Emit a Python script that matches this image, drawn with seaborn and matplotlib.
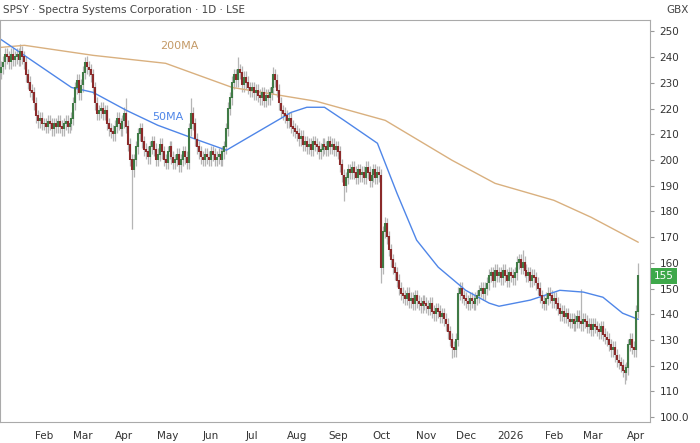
import numpy as np
import pandas as pd
import matplotlib
matplotlib.use("Agg")
import matplotlib.pyplot as plt
import seaborn as sns

# daily closes, month by month (GBX), one value per trading day
jan25 = [236, 238, 241, 240, 238, 241, 239, 240, 241, 239, 242, 240, 238, 233, 230, 227, 226, 222, 217, 215, 216, 214]
feb25 = [214, 213, 215, 214, 212, 214, 213, 215, 213, 212, 214, 215, 213, 214, 216, 222, 228, 231, 226, 229]
mar25 = [234, 238, 236, 235, 233, 228, 222, 218, 219, 220, 218, 219, 214, 212, 211, 210, 213, 216, 214, 212, 215]
apr25 = [218, 213, 206, 200, 196, 200, 205, 210, 212, 207, 204, 203, 201, 205, 207, 204, 200, 202, 206, 203, 200, 199]
may25 = [203, 205, 201, 199, 200, 202, 198, 200, 203, 201, 199, 212, 218, 214, 208, 205, 203, 201, 200, 202, 201, 200]
jun25 = [203, 202, 200, 201, 202, 200, 203, 205, 212, 220, 224, 230, 233, 231, 235, 234, 229, 232, 230, 228, 227]
jul25 = [228, 226, 227, 225, 224, 226, 223, 225, 224, 226, 228, 233, 231, 227, 222, 219, 218, 217, 215, 216, 213, 212, 211]
aug25 = [210, 208, 209, 206, 207, 205, 206, 204, 207, 206, 205, 203, 204, 206, 205, 204, 207, 205, 206, 204, 205]
sep25 = [203, 198, 194, 190, 193, 196, 195, 197, 195, 193, 196, 194, 195, 193, 197, 195, 192, 194, 196, 193, 195, 194]
oct25 = [158, 172, 175, 170, 165, 161, 158, 156, 153, 150, 148, 147, 146, 148, 145, 146, 144, 147, 145, 144, 143, 145, 144]
nov25 = [143, 142, 144, 141, 140, 142, 141, 139, 140, 138, 136, 133, 130, 127, 126, 130, 148, 150, 147, 146]
dec25 = [145, 144, 146, 145, 144, 146, 147, 149, 150, 148, 150, 152, 155, 156, 153, 157, 155, 156, 154, 157, 155, 153, 156]
jan26 = [155, 154, 156, 160, 161, 158, 160, 157, 155, 156, 153, 155, 154, 152, 150, 147, 145, 144, 146, 148, 147, 145]
feb26 = [146, 144, 142, 140, 141, 139, 140, 138, 137, 138, 136, 137, 139, 137, 136, 138, 137, 135, 136, 134]
mar26 = [136, 135, 134, 133, 135, 132, 131, 130, 128, 126, 127, 124, 122, 121, 120, 118, 117, 119, 128, 130, 127, 126]
apr26 = [141, 155]

# long wicks (date, price)
wick_highs = [("2025-01-16", 245), ("2025-03-04", 240), ("2025-04-02", 224), ("2025-05-19", 224),
              ("2025-06-20", 240), ("2025-07-16", 236), ("2025-10-03", 178), ("2026-01-09", 165),
              ("2026-02-20", 150), ("2026-04-02", 160)]
wick_lows = [("2025-04-07", 173), ("2025-09-04", 184), ("2025-10-01", 152), ("2025-11-20", 123),
             ("2026-03-24", 113)]

# moving averages, read at dates
ma50_dates = ["2025-01-02", "2025-02-21", "2025-03-10", "2025-04-02", "2025-04-24", "2025-05-23", "2025-06-12",
              "2025-07-01", "2025-07-29", "2025-08-08", "2025-08-21", "2025-09-04", "2025-09-29", "2025-10-13",
              "2025-10-27", "2025-11-11", "2025-12-01", "2025-12-17", "2025-12-24", "2026-01-15", "2026-02-05",
              "2026-02-23", "2026-03-09", "2026-03-23", "2026-04-02"]
ma50_vals = [246.9, 228.2, 226.3, 219.3, 213.5, 207.6, 203.8, 209.6, 218.5, 220.5, 220.5, 215.4, 206.5, 187,
             168.8, 158.3, 149.3, 144.3, 143.1, 145.5, 149.3, 148.6, 146.6, 140.4, 138]
ma200_dates = ["2025-01-02", "2025-01-20", "2025-03-10", "2025-04-30", "2025-06-17", "2025-08-15", "2025-10-03",
               "2025-11-20", "2025-12-22", "2026-02-02", "2026-02-27", "2026-04-02"]
ma200_vals = [243.8, 244.6, 240.7, 237.6, 228.2, 222.8, 215.4, 199.9, 190.9, 184.3, 177.7, 168]

month_labels = ["Feb", "Mar", "Apr", "May", "Jun", "Jul", "Aug", "Sep", "Oct", "Nov", "Dec", "2026", "Feb", "Mar", "Apr"]
month_starts = ["2025-02-01", "2025-03-01", "2025-04-01", "2025-05-01", "2025-06-01", "2025-07-01", "2025-08-01",
                "2025-09-01", "2025-10-01", "2025-11-01", "2025-12-01", "2026-01-01", "2026-02-01", "2026-03-01",
                "2026-04-01"]

closes = np.array(jan25 + feb25 + mar25 + apr25 + may25 + jun25 + jul25 + aug25 + sep25 + oct25 + nov25
                  + dec25 + jan26 + feb26 + mar26 + apr26, dtype=float)
dates = pd.bdate_range(start="2025-01-02", periods=len(closes))
opens = np.r_[closes[0] - 2, closes[:-1]]


def date_pos(d):
    return int(np.searchsorted(dates.values, np.datetime64(pd.Timestamp(d))))


hi_over = {date_pos(d): v for d, v in wick_highs}
lo_over = {date_pos(d): v for d, v in wick_lows}

sns.set_style("white")
plt.rcParams["font.family"] = ["DejaVu Sans"]
fig = plt.figure(figsize=(7, 4.43), dpi=100)
ax = fig.add_axes([0.0, 0.047, 0.929, 0.907])

up_c, dn_c = "#3f7a45", "#8b2a2a"
for i, (o, c) in enumerate(zip(opens, closes)):
    hi = hi_over.get(i, max(o, c) + 2.5)
    lo = lo_over.get(i, min(o, c) - 2.5)
    ax.vlines(i, lo, hi, color="#b5b5b5", lw=0.9, zorder=2)
    ax.vlines(i, min(o, c), max(o, c) + 0.3, color=up_c if c >= o else dn_c, lw=1.5, zorder=3)

sns.lineplot(x=[date_pos(d) for d in ma200_dates], y=ma200_vals, ax=ax, color="#d9b07f", lw=1)
sns.lineplot(x=[date_pos(d) for d in ma50_dates], y=ma50_vals, ax=ax, color="#4f86e8", lw=1)
ax.text(date_pos("2025-04-25"), 243, "200MA", color="#c49a67", fontsize=8)
ax.text(date_pos("2025-04-21"), 215.5, "50MA", color="#4f86e8", fontsize=8)

# Feb 2025 tick at x=44px, Apr 2026 tick at x=636px of a 650px-wide axes
p0, p1 = date_pos("2025-02-03"), date_pos("2026-04-01")
scale = (p1 - p0) / (636 - 44)
ax.set_xlim(p0 - 44 * scale, p0 + (650 - 44) * scale)
ax.set_ylim(98, 254.3)
ax.set_xticks([date_pos(d) for d in month_starts])
ax.set_xticklabels(month_labels, fontsize=7.5, color="#333333")
yt = list(range(100, 251, 10))
ax.set_yticks(yt)
ax.set_yticklabels(["100.0"] + [str(v) for v in yt[1:]], fontsize=7.5, color="#333333")
ax.yaxis.tick_right()
ax.tick_params(axis="both", length=3, color="#999999")
for s in ax.spines.values():
    s.set_color("#aaaaaa")
    s.set_linewidth(0.8)

ax.text(0.005, 1.018, "SPSY · Spectra Systems Corporation · 1D · LSE", transform=ax.transAxes,
        fontsize=7.5, color="#444444")
ax.text(1.025, 1.018, "GBX", transform=ax.transAxes, fontsize=7.5, color="#444444")
ax.text(1.006, 155, "155", transform=ax.get_yaxis_transform(), fontsize=7.5, color="white", va="center",
        bbox=dict(boxstyle="square,pad=0.3", fc="#3ea84a", ec="none"))

fig.savefig("out.png", dpi=100)
